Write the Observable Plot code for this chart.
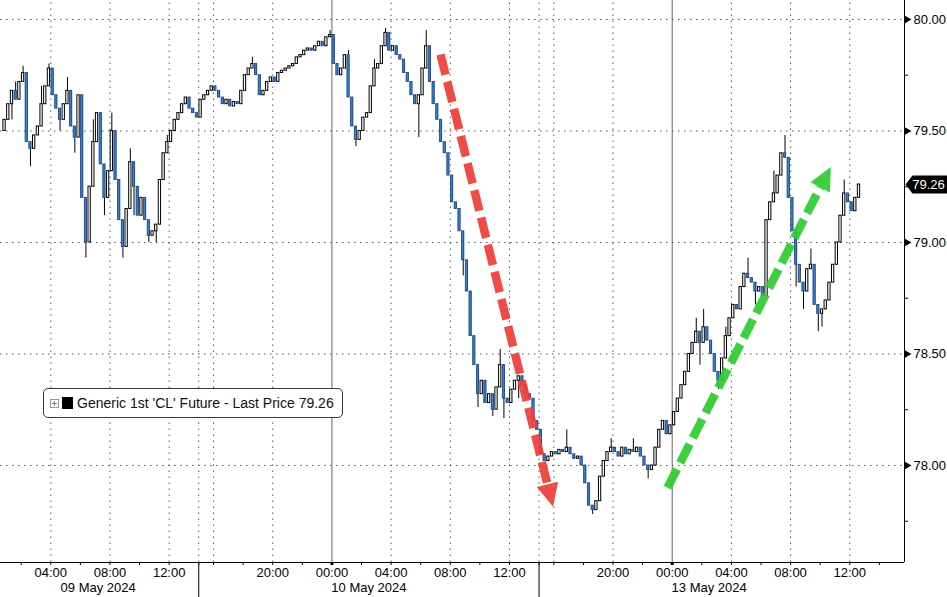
<!DOCTYPE html>
<html>
<head>
<meta charset="utf-8">
<script src="https://cdn.jsdelivr.net/npm/d3@7"></script>
<script src="https://cdn.jsdelivr.net/npm/@observablehq/plot@0.6"></script>
<style>
html,body{margin:0;padding:0;background:#fff;}
#wrap{position:relative;width:947px;height:597px;overflow:hidden;font-family:"Liberation Sans",Arial,sans-serif;}
#legend{position:absolute;left:43px;top:388px;width:298px;height:28px;border:1px solid #3a3a3a;border-radius:5px;background:#fff;display:flex;align-items:center;font-size:14px;color:#111;white-space:nowrap;}
#legend .plus{position:relative;width:7px;height:7px;border:1px solid #9a9a9a;margin-left:6px;}
#legend .plus::before{content:"";position:absolute;left:1px;top:3px;width:5px;height:1px;background:#777;}
#legend .plus::after{content:"";position:absolute;left:3px;top:1px;width:1px;height:5px;background:#777;}
#legend .sq{width:11px;height:12px;background:#000;margin-left:3px;margin-right:4px;}
</style>
</head>
<body>
<div id="wrap">
  <div id="chart"></div>
  <div id="legend"><span class="plus"></span><span class="sq"></span><span id="legtext"></span></div>
</div>
<script>
// ---- data (15-minute bars, closes) ----
const firstOpen = 79.50;
// 09 May session (bars from 00:45 to 13:45)
const closesA = [79.55,79.62,79.68,79.64,79.72,79.76,79.45,79.42,79.48,79.52,
  79.62,79.70,79.78,79.66,79.60,79.55,79.62,79.68,79.52,79.47,
  79.66,79.20,79.00,79.25,79.45,79.58,79.35,79.20,79.32,79.50,
  79.28,79.10,78.98,79.15,79.36,79.25,79.12,79.20,79.10,79.03,
  79.05,79.08,79.28,79.40,79.45,79.50,79.55,79.58,79.62,79.65,
  79.60,79.58,79.56];
// 10 May session (bars from 09 May 15:00 to 10 May 13:45)
const closesB = [79.64,79.66,79.68,79.70,79.68,79.65,79.62,79.64,79.61,79.63,
  79.62,79.68,79.75,79.78,79.80,79.75,79.66,79.68,79.72,79.74,
  79.72,79.76,79.77,79.78,79.79,79.80,79.83,79.84,79.86,79.87,
  79.86,79.88,79.90,79.88,79.92,79.93,79.80,79.75,79.78,79.84,
  79.65,79.52,79.46,79.50,79.56,79.58,79.70,79.78,79.80,79.88,
  79.94,79.86,79.88,79.84,79.82,79.76,79.72,79.66,79.62,79.66,
  79.78,79.88,79.72,79.62,79.55,79.45,79.40,79.30,79.18,79.15,
  79.05,78.92,78.78,78.58,78.45,78.32,78.38,78.28,78.32,78.25,
  78.35,78.45,78.30,78.28,78.34,78.38,78.40,78.36,78.32,78.30,
  78.20,78.16];
// 13 May session (bars from 12 May 15:00 to 13 May 12:30)
const closesC = [78.05,78.02,78.04,78.06,78.05,78.07,78.06,78.08,78.05,78.03,
  78.04,78.00,77.92,77.82,77.80,77.84,77.95,78.02,78.06,78.08,
  78.06,78.04,78.08,78.05,78.07,78.06,78.08,78.04,78.00,77.98,
  78.00,78.08,78.16,78.20,78.14,78.18,78.24,78.30,78.36,78.42,
  78.50,78.55,78.60,78.55,78.62,78.56,78.50,78.42,78.38,78.48,
  78.58,78.66,78.72,78.70,78.80,78.86,78.84,78.82,78.78,78.80,
  78.76,79.10,79.18,79.22,79.30,79.40,79.38,79.20,79.05,78.90,
  78.82,78.78,78.88,78.90,78.72,78.68,78.70,78.74,78.82,78.90,
  79.00,79.12,79.22,79.18,79.14,79.20,79.26];
// trading-hour index (session breaks removed) of the first bar of each session
const sessionStartHour = [0.75, 14, 37];
const barHours = 0.25;
// notable wicks [trading hour, price]
const wickHighs = [[1.5,79.72],[2.0,79.79],[3.25,79.70],[3.75,79.80],[5.0,79.74],[6.75,79.55],[8.0,79.58],[9.25,79.42],[11.75,79.48],
  [17.5,79.83],[22.75,79.95],[24.0,79.86],[25.75,79.82],[26.5,79.96],[29.25,79.95],[31.5,79.12],[32.5,78.52],[34.25,78.52],
  [38.75,78.16],[41.75,78.12],[43.25,78.12],[47.5,78.66],[48.0,78.70],[49.5,78.62],[51.0,78.93],[52.75,79.32],[53.5,79.48],[54.0,79.14],[55.25,78.97],[57.5,79.28]];
const wickLows  = [[1.25,79.55],[2.5,79.34],[4.5,79.50],[5.5,79.40],[6.25,78.93],[7.5,79.12],[8.75,78.93],[9.5,79.12],[10.5,79.00],[11.0,79.00],
  [24.5,79.43],[28.75,79.47],[31.75,78.85],[32.75,78.26],[33.75,78.22],[34.5,78.21],[35.5,78.30],
  [40.5,77.78],[44.25,77.94],[47.75,78.45],[49.0,78.34],[51.5,78.72],[54.25,78.80],[54.75,78.70],[55.75,78.60],[56.0,78.62]];

// axis ticks (trading hours)
const timeTickHours  = [4,8,12,19,23,27,31,35,42,46,50,54,58];
const timeTickLabels = ["04:00","08:00","12:00","20:00","00:00","04:00","08:00","12:00","20:00","00:00","04:00","08:00","12:00"];
const minorTickHours = [2,4,6,8,10,12,14,15,17,19,21,23,25,27,29,31,33,35,37,38,40,42,44,46,48,50,52,54,56,58,60];
const dayTickHours = [23,46];
const dottedGridHours = [4,8,12,14,15,19,27,31,35,37,38,42,50,54,58];
const sessionBreakHours = [14,37];
const dateLabelHours = [7.2,25.5,48.5];
const dateLabels = ["09 May 2024","10 May 2024","13 May 2024"];
const priceTicks = [78,78.5,79,79.5,80];
const priceMinorTicks = [77.75,78.25,78.75,79.25,79.75];
const lastPrice = 79.26;
const legendLabel = "Generic 1st 'CL' Future - Last Price 79.26";
// annotation arrows (data coordinates)
const arrows = [
  {x1:30.34, y1:79.843, x2:37.57, y2:77.915, color:"#ef3d38", angle:166},
  {x1:45.68, y1:77.90,  x2:56.0,  y2:79.247, color:"#2fcb2f", angle:27.6}
];

// ---- build candles ----
const candles = [];
let prev = firstOpen;
[closesA, closesB, closesC].forEach((cl, s) => {
  cl.forEach((c, i) => {
    const t = sessionStartHour[s] + i * barHours;
    candles.push({t, o: prev, c, hi: Math.max(prev, c), lo: Math.min(prev, c)});
    prev = c;
  });
});
const near = (t) => candles.find(d => Math.abs(d.t - t) < 1e-6);
for (const [t, h] of wickHighs) { const d = near(t); if (d) d.hi = Math.max(d.hi, h); }
for (const [t, l] of wickLows)  { const d = near(t); if (d) d.lo = Math.min(d.lo, l); }
const up = candles.filter(d => d.c > d.o);
const down = candles.filter(d => d.c < d.o);
const doji = candles.filter(d => d.c === d.o);

const xMin = 0.6, xMax = 61.7, yMin = 77.565, yMax = 80.085;
const H = 597, MB = 35;
const yBelow = yMin - (yMax - yMin) * MB / (H - MB);
const timeMap = new Map(timeTickHours.map((h, i) => [h, timeTickLabels[i]]));
const dateMap = new Map(dateLabelHours.map((h, i) => [h, dateLabels[i]]));

const headSymbol = {draw(ctx) { ctx.moveTo(0, -23); ctx.lineTo(11, 0); ctx.lineTo(-11, 0); ctx.closePath(); }};
const triSymbol = {draw(ctx) { ctx.moveTo(0, -4); ctx.lineTo(7, 0); ctx.lineTo(0, 4); ctx.closePath(); }};
const flagSymbol = {draw(ctx) { ctx.moveTo(1, 0); ctx.lineTo(8, -9); ctx.lineTo(43, -9); ctx.lineTo(43, 9); ctx.lineTo(8, 9); ctx.closePath(); }};

const dots = "1.5,4.5";
const chart = Plot.plot({
  width: 947, height: H,
  marginTop: 0, marginBottom: MB, marginLeft: 0, marginRight: 43,
  x: {domain: [xMin, xMax], axis: null},
  y: {domain: [yMin, yMax], axis: null},
  color: {type: "identity"},
  style: {fontFamily: '"Liberation Sans", Arial, sans-serif', fontSize: "13px", background: "#fff", color: "#000", overflow: "visible"},
  marks: [
    Plot.ruleY(priceTicks, {x1: xMin, x2: xMax, stroke: "#555", strokeDasharray: dots}),
    Plot.ruleX(dottedGridHours, {y1: yMin, y2: yMax, stroke: "#555", strokeDasharray: dots}),
    Plot.ruleX(dayTickHours, {y1: yMin, y2: yMax, stroke: "#666"}),
    // wicks
    Plot.ruleX(candles, {x: d => d.t + barHours / 2, y1: "lo", y2: "hi", stroke: "#000", strokeWidth: 1}),
    // bodies
    Plot.rect(up, {x1: "t", x2: d => d.t + barHours, y1: "o", y2: "c", insetLeft: 0.7, insetRight: 0.7, fill: "#fff", stroke: "#000", strokeWidth: 1}),
    Plot.rect(down, {x1: "t", x2: d => d.t + barHours, y1: "o", y2: "c", insetLeft: 0.7, insetRight: 0.7, fill: "#2f7fd8", stroke: "#1d3f78", strokeWidth: 0.8}),
    Plot.ruleY(doji, {x1: "t", x2: d => d.t + barHours, y: "c", stroke: "#000"}),
    // annotation arrows
    Plot.link(arrows, {x1: "x1", y1: "y1", x2: "x2", y2: "y2", stroke: "color", strokeWidth: 8.5, strokeDasharray: "21,7", opacity: 0.93}),
    Plot.dot(arrows, {x: "x2", y: "y2", symbol: headSymbol, rotate: "angle", fill: "color", stroke: null, opacity: 0.93}),
    // axis lines
    Plot.ruleY([yMin], {x1: xMin, x2: xMax, stroke: "#000"}),
    Plot.ruleX([xMax], {y1: yMin, y2: yMax, stroke: "#000"}),
    Plot.ruleX(sessionBreakHours, {y1: yMin, y2: yBelow, stroke: "#000"}),
    // x axis
    Plot.axisX({ticks: minorTickHours, tickSize: 3, tickFormat: () => ""}),
    Plot.axisX({ticks: dayTickHours, tickSize: 3, strokeWidth: 3, tickFormat: () => ""}),
    Plot.axisX({ticks: timeTickHours, tickSize: 0, tickPadding: 5, tickFormat: d => timeMap.get(d)}),
    Plot.axisX({ticks: dateLabelHours, tickSize: 0, tickPadding: 20, tickFormat: d => dateMap.get(d)}),
    // y axis (right)
    Plot.axisY({anchor: "right", ticks: priceMinorTicks, tickSize: 3, tickFormat: () => ""}),
    Plot.axisY({anchor: "right", ticks: priceTicks, tickSize: 0, tickPadding: 9, tickFormat: d => d.toFixed(2)}),
    Plot.dot(priceTicks, {x: xMax, y: d => d, symbol: triSymbol, fill: "#000", stroke: null}),
    // last price flag
    Plot.dot([lastPrice], {x: xMax, y: d => d, symbol: flagSymbol, fill: "#000", stroke: null}),
    Plot.text([lastPrice], {x: xMax, y: d => d, text: d => d.toFixed(2), fill: "#fff", dx: 24, fontSize: 13})
  ]
});
document.getElementById("chart").appendChild(chart);
document.getElementById("legtext").textContent = legendLabel;
</script>
</body>
</html>
